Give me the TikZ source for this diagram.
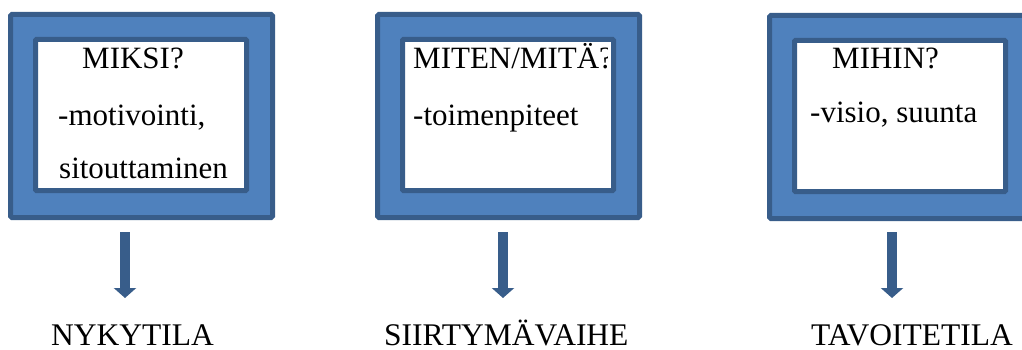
\documentclass[tikz,border=0pt]{standalone}
\usepackage{fontspec}
\setmainfont{Liberation Serif}
\usetikzlibrary{arrows.meta}
\definecolor{fillblue}{HTML}{4F81BD}
\definecolor{edgeblue}{HTML}{385D8A}
\tikzset{
  outerbox/.style={draw=edgeblue,fill=fillblue,line width=5pt,rounded corners=1.5pt},
  innerbox/.style={draw=edgeblue,fill=white,line width=5pt,rounded corners=1pt},
  boxtext/.style={anchor=base west,inner sep=0pt,font=\fontsize{31}{31}\selectfont},
  stagelabel/.style={anchor=base west,inner sep=0pt,text depth=0pt,font=\fontsize{31.5}{31.5}\selectfont},
  downarrow/.style={draw=edgeblue,line width=10pt,-{Triangle[length=10pt,width=22pt]}}
}
\begin{document}
\begin{tikzpicture}[x=1pt,y=-1pt]
\useasboundingbox (0,0) rectangle (1022,350);
\begin{scope}
\clip (0,0) rectangle (1022,350);
% frames: outer blue panel with white text window
\foreach \n/\x/\y in {1/8/12, 2/375/12, 3/767/13}{
  \path[outerbox] (\x+2.5,\y+2.5) rectangle (\x+264.5,\y+205.5);
  \path[innerbox] (\x+27.5,\y+27.5) rectangle (\x+238.5,\y+178.5);
}
\end{scope}
% texts inside the windows (clipped to the white area)
\begin{scope}
\clip (38,42) rectangle (244,188);
\node[boxtext] (miksi) at (82,69) {MIKSI?};
\node[boxtext] (motiv) at (58,125) {-motivointi,};
\node[boxtext] (sitou) at (59,178) {sitouttaminen};
\end{scope}
\begin{scope}
\clip (405,42) rectangle (607,188);
\node[boxtext] (miten) at (413,69) {MITEN/MITÄ?};
\node[boxtext] (toimen) at (413,125) {-toimenpiteet};
\end{scope}
\begin{scope}
\clip (797,43) rectangle (1003,189);
\node[boxtext] (mihin) at (832,69) {MIHIN?};
\node[boxtext] (visio) at (810,123) {-visio, suunta};
\end{scope}
% stage labels
\node[stagelabel] (nyky) at (51,345) {NYKYTILA};
\node[stagelabel] (siirt) at (384,345) {SIIRTYMÄVAIHE};
\node[stagelabel] (tavoi) at (811,345) {TAVOITETILA};
% arrows from frames down to labels
\coordinate (a1s) at (125,232); \coordinate (a1e) at (125,298);
\coordinate (a2s) at (503,232); \coordinate (a2e) at (503,298);
\coordinate (a3s) at (892,232); \coordinate (a3e) at (892,298);
\draw[downarrow] (a1s) -- (a1e);
\draw[downarrow] (a2s) -- (a2e);
\draw[downarrow] (a3s) -- (a3e);
\end{tikzpicture}
\end{document}
